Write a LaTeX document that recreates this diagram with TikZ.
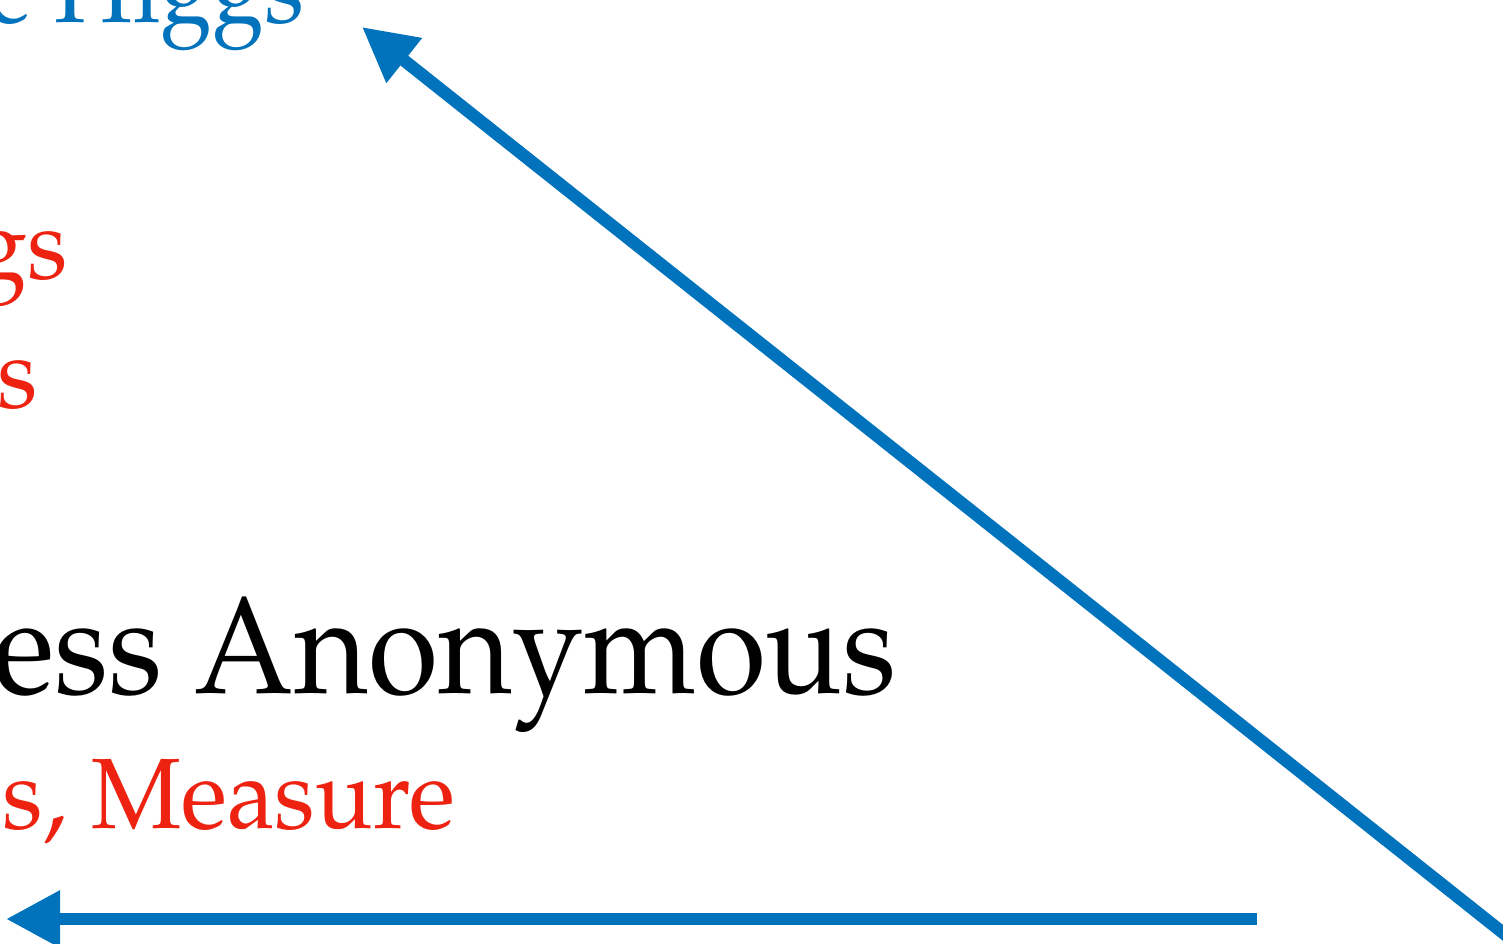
\documentclass[tikz,border=0pt]{standalone}
\usepackage[T1]{fontenc}
\usepackage{mathpazo}
\usepackage{graphicx}
\usepackage{tikz}
\usetikzlibrary{arrows.meta,positioning}
\definecolor{HiggsBlue}{RGB}{0,115,188}
\definecolor{TermRed}{RGB}{237,34,16}
\newcommand{\narrowtxt}[2]{\scalebox{#1}[1]{#2}}
\tikzset{
  lbl/.style={inner sep=0pt,anchor=base east},
  bigarrow/.style={line width=12.5pt,HiggsBlue,->}
}

\begin{document}
\begin{tikzpicture}[x=1pt,y=-1pt,>={Triangle[length=54pt,width=54pt]}]
  \useasboundingbox (0,0) rectangle (1503,943);
  \clip (0,0) rectangle (1503,943);
  % labels, cut at the left edge
  \node[lbl,HiggsBlue,font=\fontsize{100}{110}\selectfont] (higgs) at (305,22) {\narrowtxt{0.94}{e Higgs}};
  \node[lbl,TermRed,font=\fontsize{100}{110}\selectfont] (redgs) at (68,278) {\narrowtxt{0.95}{gs}};
  \node[lbl,TermRed,font=\fontsize{100}{110}\selectfont] (reds) at (38,407) {\narrowtxt{0.95}{s}};
  \node[lbl,font=\fontsize{138}{150}\selectfont] (anon) at (897,693) {\narrowtxt{0.925}{ess Anonymous}};
  \node[lbl,TermRed,font=\fontsize{100}{110}\selectfont] (measure) at (455,828) {\narrowtxt{0.955}{s, Measure}};
  % arrows
  \coordinate (htail) at (1257,919);
  \coordinate (hhead) at (6,919);
  \coordinate (dtail) at (1575,990);
  \coordinate (dhead) at (362,27);
  \draw[bigarrow] (htail) -- (hhead);
  \draw[bigarrow] (dtail) -- (dhead);
\end{tikzpicture}
\end{document}
